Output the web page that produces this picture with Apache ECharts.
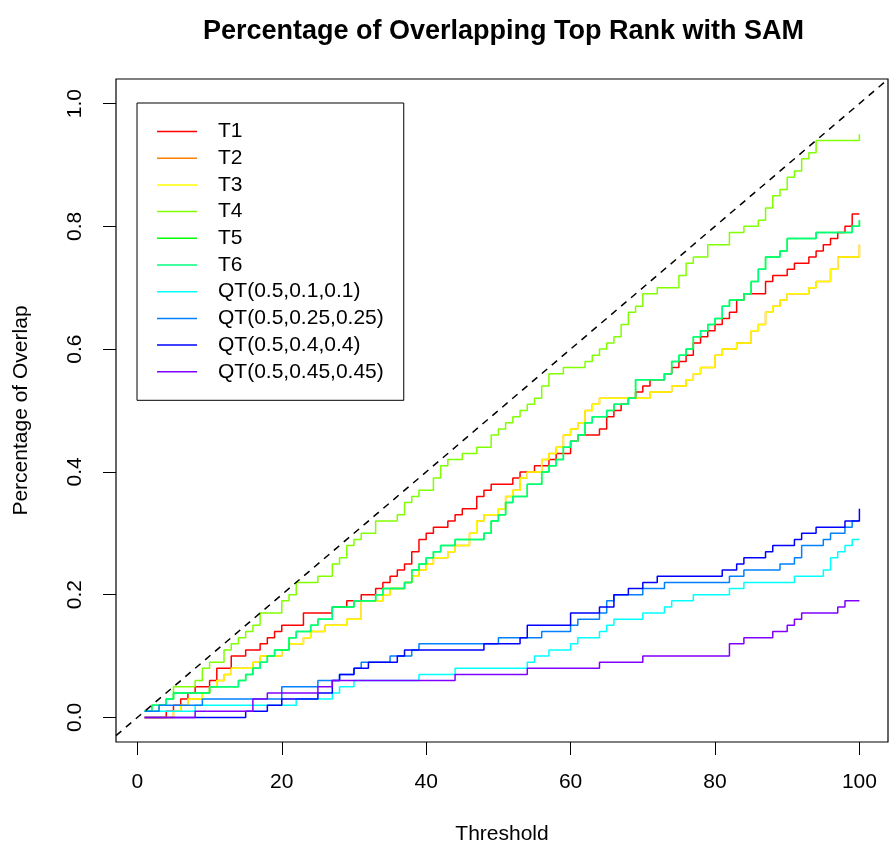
<!DOCTYPE html>
<html>
<head>
<meta charset="utf-8">
<script src="https://cdn.jsdelivr.net/npm/echarts@6/dist/echarts.min.js"></script>
<style>
  html, body { margin: 0; padding: 0; background: #fff; }
  #main { width: 889px; height: 850px; }
</style>
</head>
<body>
<div id="main"></div>
<script>
// series names as in the legend
const names = ['T1', 'T2', 'T3', 'T4', 'T5', 'T6',
  'QT(0.5,0.1,0.1)', 'QT(0.5,0.25,0.25)', 'QT(0.5,0.4,0.4)', 'QT(0.5,0.45,0.45)'];

// [threshold, overlap] at each step change
const t1 = [[1,0],[4,.01],[5,.02],[6,.03],[7,.04],[8,.05],[10,.06],[11,.08],[13,.10],[15,.11],[17,.12],[18,.13],[19,.14],[20,.15],[23,.17],[27,.18],[29,.19],[31,.20],[33,.21],[34,.22],[35,.23],[36,.24],[37,.25],[38,.27],[39,.29],[40,.30],[41,.31],[43,.32],[44,.33],[45,.34],[47,.36],[48,.37],[49,.38],[52,.39],[53,.40],[55,.41],[57,.42],[58,.43],[60,.45],[61,.46],[64,.47],[65,.49],[66,.50],[67,.51],[68,.52],[69,.53],[70,.54],[71,.55],[73,.56],[74,.57],[75,.58],[76,.59],[77,.61],[78,.62],[79,.63],[80,.64],[81,.65],[82,.66],[83,.68],[84,.69],[87,.71],[88,.72],[90,.73],[91,.74],[93,.75],[94,.76],[95,.77],[96,.78],[97,.79],[98,.80],[99,.82],[100,.82]];
const t2 = [[1,0],[5,.01],[6,.02],[7,.03],[9,.04],[10,.05],[11,.06],[12,.07],[13,.08],[16,.09],[17,.10],[20,.11],[21,.12],[23,.13],[24,.14],[26,.15],[29,.16],[31,.19],[34,.20],[35,.21],[37,.22],[38,.23],[39,.24],[40,.25],[41,.26],[43,.27],[44,.28],[46,.30],[47,.32],[48,.33],[50,.34],[51,.36],[52,.37],[53,.39],[54,.40],[56,.42],[57,.43],[58,.44],[59,.46],[60,.47],[61,.48],[62,.50],[63,.51],[64,.52],[71,.53],[74,.54],[76,.55],[77,.56],[78,.57],[80,.59],[81,.60],[83,.61],[85,.63],[86,.64],[87,.66],[88,.67],[89,.68],[90,.69],[93,.70],[94,.71],[96,.73],[97,.75],[100,.77]];
const t3 = [[1,0],[5,.01],[6,.02],[7,.03],[9,.04],[10,.05],[11,.06],[12,.07],[13,.08],[16,.09],[17,.10],[20,.11],[21,.12],[23,.13],[24,.14],[26,.15],[29,.16],[31,.19],[34,.20],[35,.21],[37,.22],[38,.23],[39,.24],[40,.25],[41,.26],[43,.27],[44,.28],[46,.30],[47,.32],[48,.33],[50,.34],[51,.36],[52,.37],[53,.39],[54,.40],[56,.42],[57,.43],[58,.44],[59,.46],[60,.47],[61,.48],[62,.50],[63,.51],[64,.52],[71,.53],[74,.54],[76,.55],[77,.56],[78,.57],[80,.59],[81,.60],[83,.61],[85,.63],[86,.64],[87,.66],[88,.67],[89,.68],[90,.69],[93,.70],[94,.71],[96,.73],[97,.75],[100,.77]];
const t4 = [[1,.01],[3,.02],[4,.03],[5,.05],[8,.06],[9,.08],[10,.09],[12,.11],[13,.12],[14,.13],[15,.14],[16,.15],[17,.17],[20,.19],[21,.20],[22,.22],[25,.23],[27,.25],[28,.26],[29,.28],[30,.29],[31,.30],[33,.32],[36,.33],[37,.35],[38,.36],[39,.37],[41,.39],[42,.41],[43,.42],[45,.43],[47,.44],[49,.46],[50,.47],[51,.48],[52,.49],[53,.50],[54,.51],[55,.52],[56,.54],[57,.56],[59,.57],[62,.58],[63,.59],[64,.60],[65,.61],[66,.62],[67,.64],[68,.66],[69,.67],[70,.69],[72,.70],[75,.72],[76,.74],[77,.75],[79,.77],[82,.79],[84,.80],[86,.81],[87,.83],[88,.85],[89,.86],[90,.88],[91,.89],[92,.91],[93,.92],[94,.94],[100,.95]];
const t5 = [[1,.01],[2,.02],[4,.03],[5,.04],[10,.05],[14,.06],[15,.07],[16,.08],[17,.09],[18,.10],[19,.11],[21,.13],[22,.14],[24,.15],[25,.16],[27,.18],[30,.19],[33,.20],[34,.21],[37,.22],[38,.24],[39,.25],[40,.26],[41,.27],[42,.28],[44,.29],[48,.30],[49,.32],[50,.33],[51,.35],[52,.36],[54,.38],[56,.40],[57,.41],[58,.42],[59,.44],[60,.45],[61,.46],[62,.48],[63,.49],[65,.50],[66,.51],[68,.52],[69,.55],[73,.56],[74,.58],[75,.59],[76,.60],[77,.62],[78,.63],[79,.64],[80,.65],[81,.67],[82,.68],[84,.69],[85,.71],[86,.73],[87,.75],[89,.76],[90,.78],[94,.79],[99,.80],[100,.81]];
const t6 = [[1,.01],[2,.02],[4,.03],[5,.04],[10,.05],[14,.06],[15,.07],[16,.08],[17,.09],[18,.10],[19,.11],[21,.13],[22,.14],[24,.15],[25,.16],[27,.18],[30,.19],[33,.20],[34,.21],[37,.22],[38,.24],[39,.25],[40,.26],[41,.27],[42,.28],[44,.29],[48,.30],[49,.32],[50,.33],[51,.35],[52,.36],[54,.38],[56,.40],[57,.41],[58,.42],[59,.44],[60,.45],[61,.46],[62,.48],[63,.49],[65,.50],[66,.51],[68,.52],[69,.55],[73,.56],[74,.58],[75,.59],[76,.60],[77,.62],[78,.63],[79,.64],[80,.65],[81,.67],[82,.68],[84,.69],[85,.71],[86,.73],[87,.75],[89,.76],[90,.78],[94,.79],[99,.80],[100,.81]];
const qt10 = [[1,.01],[8,.02],[22,.03],[27,.04],[28,.05],[30,.06],[39,.07],[44,.08],[54,.09],[55,.10],[57,.11],[60,.12],[61,.13],[64,.14],[65,.15],[66,.16],[70,.17],[73,.18],[74,.19],[77,.20],[82,.21],[84,.22],[91,.23],[95,.24],[96,.26],[97,.27],[98,.28],[99,.29],[100,.29]];
const qt25 = [[1,.01],[3,.02],[9,.03],[20,.05],[25,.06],[28,.07],[30,.08],[31,.09],[35,.10],[38,.11],[39,.12],[50,.13],[56,.14],[60,.15],[61,.16],[64,.17],[65,.19],[66,.20],[70,.21],[73,.22],[82,.23],[84,.24],[89,.25],[91,.26],[92,.28],[95,.29],[96,.30],[98,.31],[99,.32],[100,.32]];
const qt40 = [[1,0],[15,.01],[18,.02],[20,.03],[25,.04],[27,.06],[28,.07],[30,.08],[32,.09],[36,.10],[37,.11],[48,.12],[53,.13],[54,.15],[60,.17],[64,.18],[66,.20],[68,.21],[70,.22],[72,.23],[81,.24],[83,.25],[84,.26],[87,.27],[88,.28],[91,.29],[92,.30],[94,.31],[98,.32],[100,.34]];
const qt45 = [[1,0],[8,.01],[16,.03],[18,.04],[25,.05],[27,.06],[44,.07],[54,.08],[64,.09],[70,.10],[82,.12],[84,.13],[88,.14],[90,.15],[91,.16],[92,.17],[97,.18],[98,.19],[100,.19]];

const xTicks = [0, 20, 40, 60, 80, 100];
const yTicks = [0, 0.2, 0.4, 0.6, 0.8, 1.0];

const allData = [t1, t2, t3, t4, t5, t6, qt10, qt25, qt40, qt45];
const colors = ['#FF0000', '#FF8000', '#FFFF00', '#80FF00', '#00FF00', '#00FF80',
  '#00FFFF', '#0080FF', '#0000FF', '#8000FF'];

// R style axis range: data range padded by 4%
const xMin = 1 - 0.04 * 99, xMax = 100 + 0.04 * 99;
const yMin = -0.04, yMax = 1.04;
const font = 'Liberation Sans, Arial, Helvetica, sans-serif';

const chart = echarts.init(document.getElementById('main'), null, { renderer: 'canvas' });

let series = allData.map((d, i) => ({
  name: names[i],
  type: 'line',
  step: 'end',
  symbol: 'none',
  data: d,
  color: colors[i],
  lineStyle: { color: colors[i], width: 1.5 },
  animation: false
}));
// y = x diagonal (abline)
series.push({
  name: 'diag',
  type: 'line',
  symbol: 'none',
  data: [[xMin, xMin / 100], [xMax, xMax / 100]],
  lineStyle: { color: '#000', width: 1.5, type: [7, 6] },
  animation: false
});

const option = {
  backgroundColor: '#fff',
  title: {
    text: 'Percentage of Overlapping Top Rank with SAM',
    left: 198,
    top: 13,
    textStyle: { fontFamily: font, fontSize: 27, fontWeight: 'bold', color: '#000' }
  },
  legend: {
    data: names,
    orient: 'vertical',
    left: 137,
    top: 103,
    padding: [18, 20, 18, 20],
    icon: 'rect',
    itemWidth: 40,
    itemHeight: 1.5,
    itemGap: 5.7,
    backgroundColor: '#fff',
    borderColor: '#000',
    borderWidth: 1,
    selectedMode: false,
    textStyle: { fontFamily: font, fontSize: 21, lineHeight: 21, color: '#000', padding: [0, 0, 0, 16] }
  },
  grid: {
    left: 116, top: 79, right: 1, bottom: 105,
    show: true, borderColor: '#000', borderWidth: 1.2, backgroundColor: 'transparent'
  },
  xAxis: {
    type: 'value',
    min: xMin,
    max: xMax,
    name: 'Threshold',
    nameLocation: 'middle',
    nameGap: 82,
    nameTextStyle: { fontFamily: font, fontSize: 21, color: '#000' },
    axisLine: { show: false, onZero: false },
    axisTick: { show: true, customValues: xTicks, length: 13, lineStyle: { color: '#000', width: 1 } },
    axisLabel: { customValues: xTicks, margin: 30, fontFamily: font, fontSize: 21, color: '#000' },
    splitLine: { show: false }
  },
  yAxis: {
    type: 'value',
    min: yMin,
    max: yMax,
    name: 'Percentage of Overlap',
    nameLocation: 'middle',
    nameGap: 84,
    nameTextStyle: { fontFamily: font, fontSize: 21, color: '#000' },
    axisLine: { show: false, onZero: false },
    axisTick: { show: true, customValues: yTicks, length: 13, lineStyle: { color: '#000', width: 1 } },
    axisLabel: {
      customValues: yTicks, rotate: 90, margin: 30,
      fontFamily: font, fontSize: 21, color: '#000',
      formatter: (v) => v.toFixed(1)
    },
    splitLine: { show: false }
  },
  series: series
};

chart.setOption(option);
</script>
</body>
</html>
